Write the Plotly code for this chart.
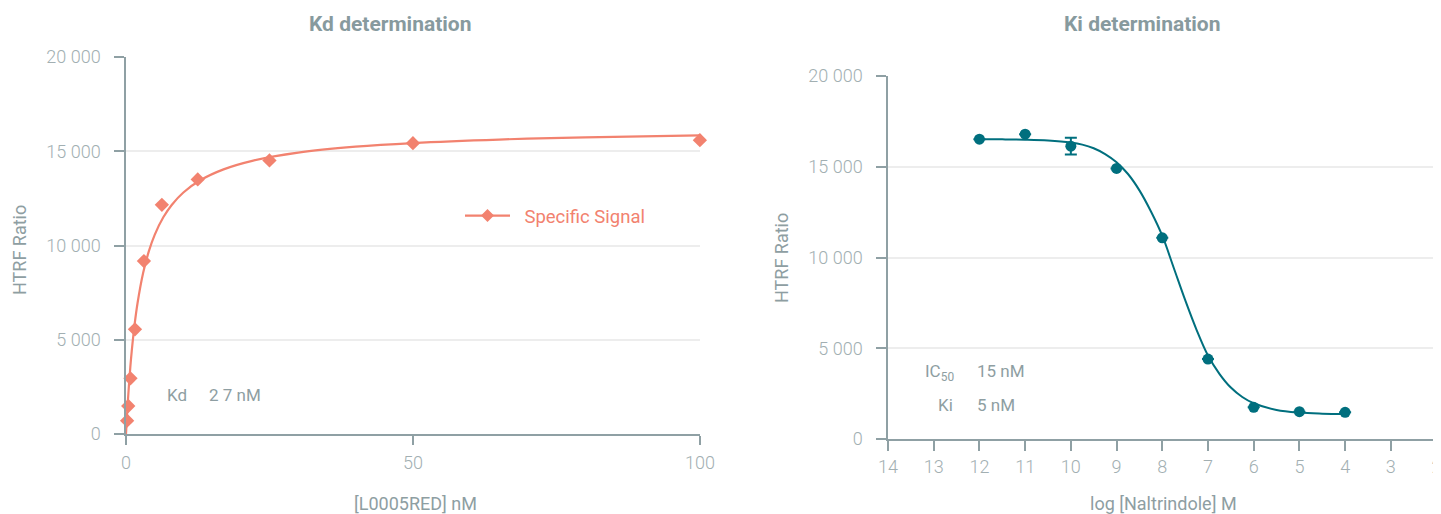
import plotly.graph_objects as go

# ---------------- data ----------------
# Kd determination (saturation binding)
kd_conc = [0.195, 0.39, 0.78, 1.5625, 3.125, 6.25, 12.5, 25, 50, 100]
kd_signal = [705, 1485, 2953, 5551, 9173, 12158, 13505, 14512, 15430, 15589]
kd_fit_x = [0, 0.25, 0.5, 0.75, 1, 1.5, 2, 3, 4, 5, 6.5, 8, 10, 13, 17, 22, 30, 40, 50, 65, 80, 100]
kd_fit_y = [0, 1379, 2542, 3537, 4397, 5811, 6923, 8563, 9713, 10565, 11495, 12164, 12811,
            13472, 14040, 14492, 14927, 15241, 15436, 15621, 15739, 15842]

# Ki determination (competition)
ki_logc = [12, 11, 10, 9, 8, 7, 6, 5, 4]
ki_signal = [16520, 16795, 16134, 14906, 11085, 4405, 1744, 1505, 1468]
ki_err = [0, 0, 457, 0, 0, 0, 0, 0, 0]
ki_fit_x = [12, 11.5, 11, 10.5, 10, 9.75, 9.5, 9.25, 9, 8.75, 8.5, 8.25, 8, 7.75, 7.5, 7.25,
            7, 6.75, 6.5, 6.25, 6, 5.5, 5, 4.5, 4]
ki_fit_y = [16516, 16509, 16491, 16446, 16333, 16220, 16020, 15700, 15250, 14600, 13700, 12550,
            11200, 9437, 7661, 6019, 4600, 3593, 2833, 2313, 1969, 1603, 1455, 1397, 1374]

y_ticks = [0, 5000, 10000, 15000, 20000]
y_ticktext = ["0", "5 000", "10 000", "15 000", "20 000"]
kd_xticks = [0, 50, 100]
ki_xticks = [14, 13, 12, 11, 10, 9, 8, 7, 6, 5, 4, 3, 2]

# ---------------- style ----------------
SALMON = "#F2826F"
TEAL = "#006F7E"
AXIS = "#8FA0A4"
TICKTXT = "#A2AFB2"
TXT = "#8E9EA2"
TITLE = "#879A9E"
GRID = "#EDEDED"
FONT = "Roboto"
OFF = 8                      # page body margin
W, H = 1441 - OFF, 514 - OFF

fig = go.Figure()

fig.add_trace(go.Scatter(x=kd_fit_x, y=kd_fit_y, mode="lines", line=dict(color=SALMON, width=2.2, shape="spline"),
                         showlegend=False, xaxis="x", yaxis="y", hoverinfo="skip"))
fig.add_trace(go.Scatter(x=kd_conc, y=kd_signal, mode="markers",
                         marker=dict(symbol="diamond", size=11, color=SALMON),
                         showlegend=False, xaxis="x", yaxis="y", cliponaxis=False))
fig.add_trace(go.Scatter(x=[None], y=[None], mode="lines+markers", name="\u2002Specific Signal",
                         line=dict(color=SALMON, width=2.2),
                         marker=dict(symbol="diamond", size=10, color=SALMON),
                         xaxis="x", yaxis="y"))

fig.add_trace(go.Scatter(x=ki_fit_x, y=ki_fit_y, mode="lines", line=dict(color=TEAL, width=2, shape="spline"),
                         showlegend=False, xaxis="x2", yaxis="y2", hoverinfo="skip"))
fig.add_trace(go.Scatter(x=ki_logc, y=ki_signal, mode="markers",
                         marker=dict(symbol="circle", size=11, color=TEAL),
                         error_y=dict(type="data", array=ki_err, visible=True, color=TEAL, thickness=2, width=6),
                         showlegend=False, xaxis="x2", yaxis="y2", cliponaxis=False))

def xdom(a, b):
    return [(a - OFF) / W, (b - OFF) / W]

def ydom(bottom, top):
    return [(H - (bottom - OFF)) / H, (H - (top - OFF)) / H]

def px(x, y):
    return (x - OFF) / W, (H - (y - OFF)) / H

common_axis = dict(showline=True, linecolor=AXIS, linewidth=1.5, ticks="outside", tickcolor=AXIS,
                   tickwidth=1.5, zeroline=False, automargin=False, ticklabeloverflow="allow",
                   tickfont=dict(family=FONT, size=18, color=TICKTXT, weight=300))

lx, ly = px(460, 216)
fig.update_layout(
    template="none",
    width=W, height=H,
    margin=dict(l=0, r=0, t=0, b=0, pad=0),
    paper_bgcolor="white", plot_bgcolor="white",
    font=dict(family=FONT, color=TXT),
    xaxis=dict(domain=xdom(126, 700), range=[0, 100.02], tickvals=kd_xticks, ticklen=9, showgrid=False,
               anchor="y", ticklabelstandoff=3, **common_axis),
    yaxis=dict(domain=ydom(434, 57), range=[0, 20000], tickvals=y_ticks, ticktext=y_ticktext, ticklen=10,
               showgrid=True, gridcolor=GRID, gridwidth=1.5, anchor="x", ticklabelstandoff=10, **common_axis),
    xaxis2=dict(domain=xdom(888, 1437), range=[14, 1.99], tickvals=ki_xticks, ticklen=10, showgrid=False,
                anchor="y2", ticklabelstandoff=1, **common_axis),
    yaxis2=dict(domain=ydom(439, 76), range=[0, 20000], tickvals=y_ticks, ticktext=y_ticktext, ticklen=10,
                showgrid=True, gridcolor=GRID, gridwidth=1.5, anchor="x2", ticklabelstandoff=10, **common_axis),
    legend=dict(x=lx, y=ly, xanchor="left", yanchor="middle", bgcolor="rgba(0,0,0,0)",
                font=dict(family=FONT, size=18.5, color=SALMON), itemwidth=45),
)

ann = []
def add(text, x, y, size=17, color=TXT, xanchor="left", bold=False, angle=0):
    ax, ay = px(x, y)
    ann.append(dict(text=text, x=ax, y=ay, xref="paper", yref="paper", showarrow=False,
                    xanchor=xanchor, yanchor="middle", textangle=angle,
                    font=dict(family=FONT, size=size, color=color, weight=700 if bold else 400)))

add("Kd determination", 390, 24, size=21, color=TITLE, xanchor="center", bold=True)
add("Ki determination", 1142, 24, size=21, color=TITLE, xanchor="center", bold=True)
add("HTRF Ratio", 19, 250, size=18, xanchor="center", angle=-90)
add("HTRF Ratio", 781, 258, size=18, xanchor="center", angle=-90)
add("[L0005RED] nM", 415, 503, size=18, xanchor="center")
add("log [Naltrindole] M", 1163, 503, size=18, xanchor="center")
add("Kd", 165, 395)
add("2 7 nM", 207, 395)
add("IC<sub>50</sub>", 956, 372, xanchor="right")
add("15 nM", 975, 371)
add("Ki", 955, 405, xanchor="right")
add("5 nM", 975, 405)

fig.update_layout(annotations=ann)
fig.write_html("out.html")
